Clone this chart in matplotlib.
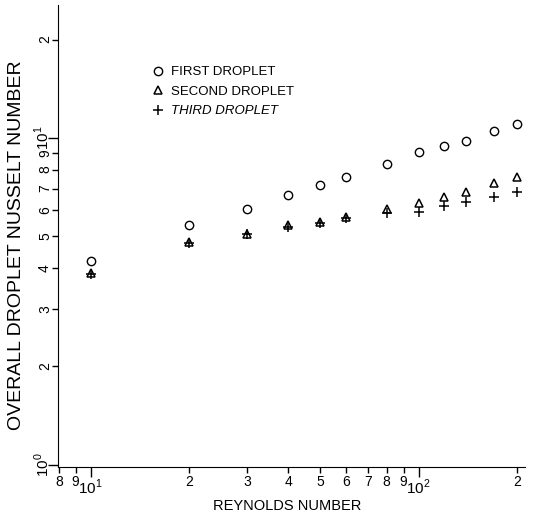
import matplotlib
matplotlib.use("Agg")
import matplotlib.pyplot as plt
from matplotlib.transforms import offset_copy

plt.rcParams['font.family'] = ['Liberation Sans', 'DejaVu Sans']
plt.rcParams['mathtext.fontset'] = 'custom'
plt.rcParams['mathtext.rm'] = 'Liberation Sans'

# Reynolds number vs overall droplet Nusselt number
reynolds = [10, 20, 30, 40, 50, 60, 80, 100, 120, 140, 170, 200]
nu_first = [4.2, 5.4, 6.05, 6.7, 7.2, 7.6, 8.35, 9.05, 9.45, 9.8, 10.5, 11.0]
nu_second = [3.86, 4.8, 5.1, 5.4, 5.55, 5.72, 6.05, 6.33, 6.6, 6.85, 7.3, 7.6]
nu_third = [3.84, 4.77, 5.07, 5.35, 5.5, 5.7, 5.88, 5.95, 6.2, 6.35, 6.6, 6.85]

x_minor = [8, 9, 20, 30, 40, 50, 60, 70, 80, 90, 200]
x_minor_labels = ['8', '9', '2', '3', '4', '5', '6', '7', '8', '9', '2']
y_major = [1, 10]
y_major_labels = [r'$10^0$', r'$10^1$']
y_minor = [2, 3, 4, 5, 6, 7, 8, 9, 20]
y_minor_labels = ['2', '3', '4', '5', '6', '7', '8', '9', '2']

fig = plt.figure(figsize=(5.35, 5.22), dpi=100)
ax = fig.add_axes([0.1084, 0.1054, 0.8726, 0.885])

ax.plot(reynolds, nu_first, 'o', ms=6, mfc='none', mec='black', mew=1.0,
        label='FIRST DROPLET')
ax.plot(reynolds, nu_second, '^', ms=6, mfc='none', mec='black', mew=1.1,
        label='SECOND DROPLET')
ax.plot(reynolds, nu_third, '+', ms=7, mec='black', mew=1.1,
        label='THIRD DROPLET')

ax.set_xscale('log')
ax.set_yscale('log')
ax.set_xlim(7.95, 211)
ax.set_ylim(0.985, 25.5)

for s in ['top', 'right']:
    ax.spines[s].set_visible(False)

ax.set_xticks([10, 100], [r'$10^1$', r'$10^2$'])
ax.set_xticks(x_minor, x_minor_labels, minor=True)
ax.set_yticks(y_major)
ax.set_yticks(y_minor, minor=True)

ax.tick_params(which='major', length=7, width=1, labelsize=11, pad=1)
ax.tick_params(which='minor', length=4, width=1, labelsize=10, pad=2)
ax.tick_params(axis='y', which='both', labelleft=False)

# y tick labels sit on their side, as in the scan
ytrans = offset_copy(ax.get_yaxis_transform(), fig=fig, x=-6, y=0, units='dots')
for v, s in zip(y_major, y_major_labels):
    ax.text(0, v, s, transform=ytrans, rotation=90, fontsize=11,
            ha='right', va='center')
for v, s in zip(y_minor, y_minor_labels):
    ax.text(0, v, s, transform=ytrans, rotation=90, fontsize=10,
            ha='right', va='center')

ax.set_xlabel('REYNOLDS NUMBER', fontsize=10.5)
ax.xaxis.set_label_coords(0.49, -0.07)
ax.set_ylabel('OVERALL DROPLET NUSSELT NUMBER', fontsize=14)
ax.yaxis.set_label_coords(-0.07, 0.48)

leg = ax.legend(loc='upper left', bbox_to_anchor=(151 / 535, 1 - 66 / 522),
                bbox_transform=fig.transFigure, frameon=False, fontsize=9.5,
                handlelength=1.0, handletextpad=0.55, labelspacing=0.55,
                borderaxespad=0, borderpad=0)
leg.get_texts()[2].set_style('italic')

fig.savefig('out.png', dpi=100)
